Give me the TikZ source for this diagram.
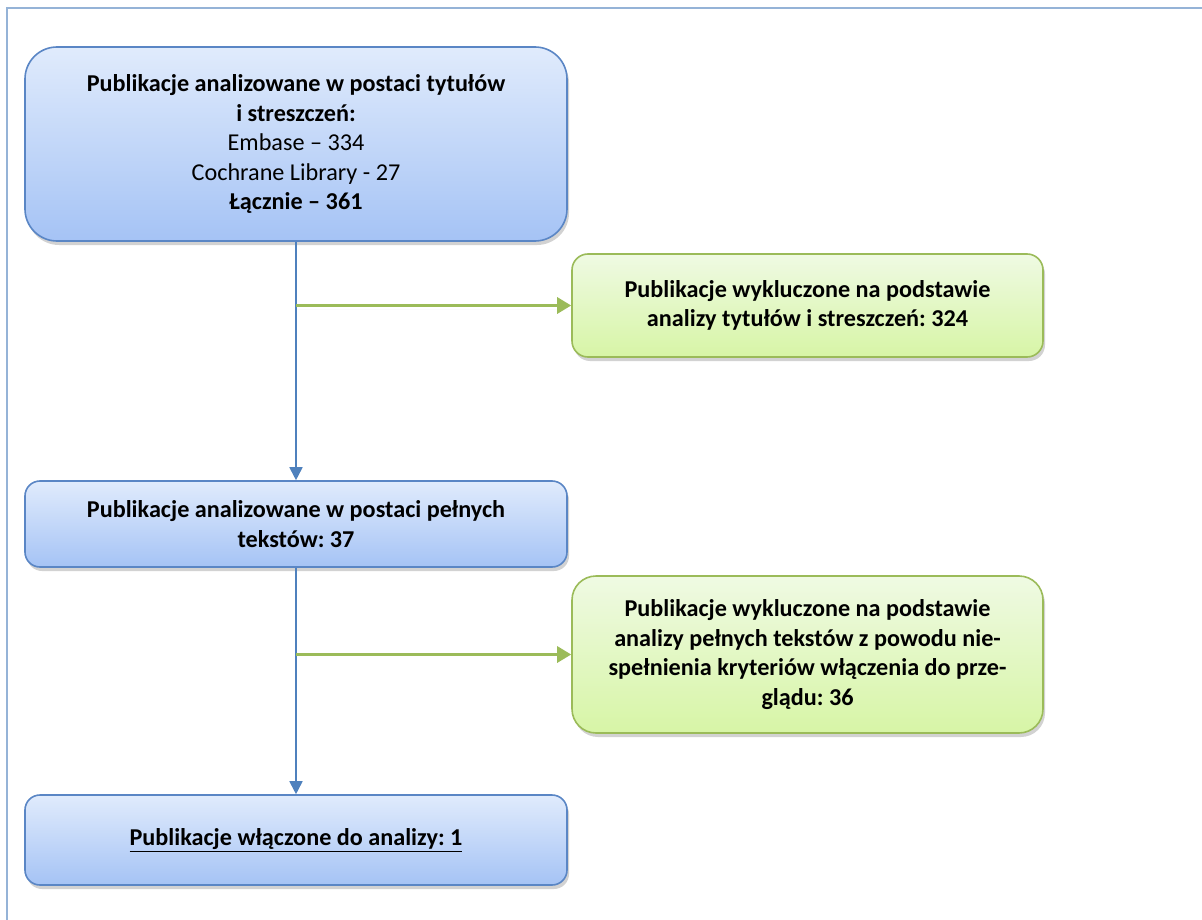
\documentclass[tikz,border=0pt]{standalone}
\usepackage{fontspec}
\setmainfont{Carlito}
\frenchspacing
\usetikzlibrary{shadows,arrows.meta}
\definecolor{bborder}{HTML}{5A86C5}
\definecolor{btop}{HTML}{E0EBFC}
\definecolor{bbot}{HTML}{A5C3F5}
\definecolor{gborder}{HTML}{9BBB59}
\definecolor{gtop}{HTML}{EFFAE3}
\definecolor{gbot}{HTML}{D7F5A6}
\definecolor{frame}{HTML}{95B3D7}
\definecolor{bline}{HTML}{4F81BD}
\begin{document}
\begin{tikzpicture}[x=1pt,y=-1pt,
  txt/.style={font=\fontsize{24.2}{29.5}\selectfont, align=center, text=black},
  bluebox/.style={txt, draw=bborder, line width=1.6pt, top color=btop, bottom color=bbot, minimum width=542pt, inner sep=0pt,
    drop shadow={shadow xshift=2pt, shadow yshift=-4pt, opacity=0.35}},
  greenbox/.style={txt, draw=gborder, line width=1.6pt, top color=gtop, bottom color=gbot, minimum width=471pt, inner sep=0pt,
    drop shadow={shadow xshift=2pt, shadow yshift=-4pt, opacity=0.35}},
  bluearrow/.style={draw=bline, line width=1.8pt, -{Triangle[length=13pt,width=13pt]}},
  greenarrow/.style={draw=gborder, line width=3pt, -{Triangle[length=14pt,width=16pt]}}
]
\useasboundingbox (0,0) rectangle (1202,920);
\fill[white] (0,0) rectangle (1202,920);
\draw[frame, line width=2pt] (7,920) -- (7,8) -- (1202,8);

\node[bluebox, rounded corners=32pt, minimum height=194pt] (b1) at (296,144)
  {\textbf{Publikacje analizowane w postaci tytułów}\\ \textbf{i streszczeń:}\\ Embase – 334\\ Cochrane Library - 27\\ \textbf{Łącznie – 361}};
\node[greenbox, rounded corners=16pt, minimum height=103pt] (g1) at (807.5,305.5)
  {\textbf{Publikacje wykluczone na podstawie}\\ \textbf{analizy tytułów i streszczeń: 324}};
\node[bluebox, rounded corners=15pt, minimum height=86pt] (b2) at (296,524)
  {\textbf{Publikacje analizowane w postaci pełnych}\\ \textbf{tekstów: 37}};
\node[greenbox, rounded corners=24pt, minimum height=157pt] (g2) at (807.5,654.5)
  {\textbf{Publikacje wykluczone na podstawie}\\ \textbf{analizy pełnych tekstów z powodu nie-}\\ \textbf{spełnienia kryteriów włączenia do prze-}\\ \textbf{glądu: 36}};
\node[bluebox, rounded corners=15pt, minimum height=90pt] (b3) at (296,840)
  {\textbf{\underline{Publikacje włączone do analizy: 1}}};

\draw[bluearrow] (b1.south) -- (b2.north);
\draw[bluearrow] (b2.south) -- (b3.north);
\coordinate (j1) at (b1.south |- g1.west);
\coordinate (j2) at (b2.south |- g2.west);
\draw[greenarrow, drop shadow={shadow xshift=1pt, shadow yshift=-4pt, opacity=0.25}] (j1) -- (g1.west);
\draw[greenarrow] (j2) -- (g2.west);
\end{tikzpicture}
\end{document}
